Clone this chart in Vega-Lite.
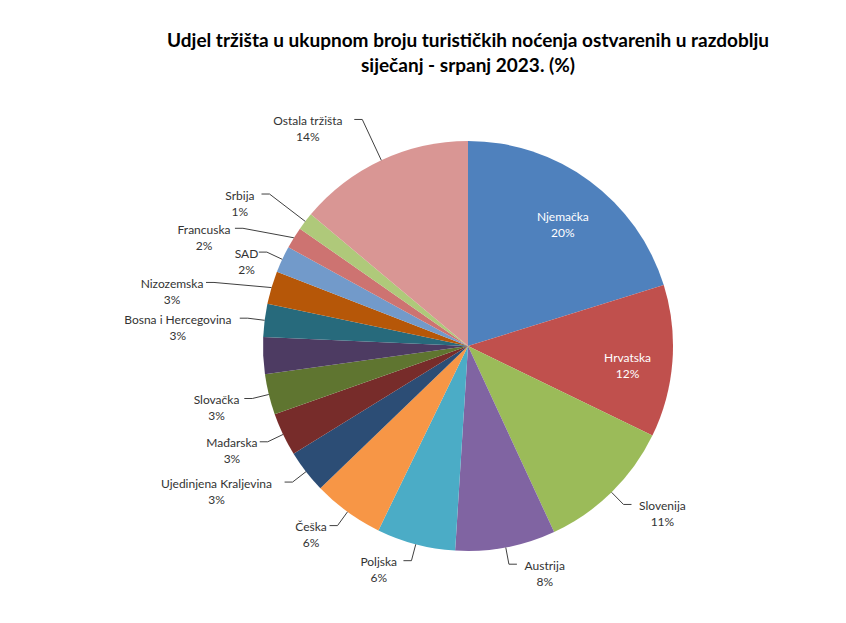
{
  "$schema": "https://vega.github.io/schema/vega-lite/v6.json",
  "width": 756,
  "height": 492,
  "autosize": {"type": "none"},
  "padding": {"left": 90, "top": 100, "right": 0, "bottom": 31},
  "background": "white",
  "title": {
    "text": ["Udjel tržišta u ukupnom broju turističkih noćenja ostvarenih u razdoblju", "siječanj - srpanj 2023. (%)"],
    "font": "Lato",
    "fontSize": 19,
    "fontWeight": "bold",
    "color": "#000000",
    "anchor": "middle",
    "lineHeight": 25,
    "offset": 24
  },
  "config": {"view": {"stroke": null}},
  "data": {
    "values": [
      {"order": 1, "name": "Njemačka", "value": 20.2},
      {"order": 2, "name": "Hrvatska", "value": 12.0},
      {"order": 3, "name": "Slovenija", "value": 10.9},
      {"order": 4, "name": "Austrija", "value": 7.9},
      {"order": 5, "name": "Poljska", "value": 6.2},
      {"order": 6, "name": "Češka", "value": 5.6},
      {"order": 7, "name": "Ujedinjena Kraljevina", "value": 3.4},
      {"order": 8, "name": "Mađarska", "value": 3.4},
      {"order": 9, "name": "Slovačka", "value": 3.2},
      {"order": 10, "name": "Italija", "value": 2.9, "hidden": true},
      {"order": 11, "name": "Bosna i Hercegovina", "value": 2.6},
      {"order": 12, "name": "Nizozemska", "value": 2.6},
      {"order": 13, "name": "SAD", "value": 2.1},
      {"order": 14, "name": "Francuska", "value": 1.7},
      {"order": 15, "name": "Srbija", "value": 1.4},
      {"order": 16, "name": "Ostala tržišta", "value": 13.9}
    ]
  },
  "transform": [
    {"window": [{"op": "sum", "field": "value", "as": "cum"}], "sort": [{"field": "order"}], "frame": [null, 0]},
    {"joinaggregate": [{"op": "sum", "field": "value", "as": "total"}]},
    {"calculate": "(datum.cum - datum.value / 2) / datum.total * 2 * PI", "as": "mid"},
    {"calculate": "sin(datum.mid)", "as": "s"},
    {"calculate": "cos(datum.mid)", "as": "c"},
    {"calculate": "datum.order % 2 == 0 && datum.mid > 1.5 * PI && datum.mid < 1.68 * PI", "as": "far"},
    {"calculate": "datum.mid > 1.68 * PI ? 250 : (datum.far ? 265 : 222)", "as": "re"},
    {"calculate": "datum.s >= 0 ? 1 : -1", "as": "side"},
    {"calculate": "205 * datum.s", "as": "x0"},
    {"calculate": "205 * datum.c", "as": "y0"},
    {"calculate": "datum.re * datum.s", "as": "x1"},
    {"calculate": "datum.far ? datum.y0 + (datum.re * datum.c - datum.y0) * 0.3 : datum.re * datum.c", "as": "y1"},
    {"calculate": "datum.x1 + datum.side * 8", "as": "x2"},
    {"calculate": "datum.x2 + datum.side * (3 + length(datum.name) * 3.1)", "as": "tx"},
    {"calculate": "datum.y1 - 1.5", "as": "ty"},
    {"calculate": "160 * datum.s", "as": "ix"},
    {"calculate": "160 * datum.c", "as": "iy"},
    {"calculate": "datum.name + '\\n' + format(datum.value / 100, '.0%')", "as": "label"}
  ],
  "layer": [
    {
      "mark": {"type": "arc", "outerRadius": 205},
      "encoding": {
        "theta": {"field": "value", "type": "quantitative", "stack": true},
        "order": {"field": "order", "type": "quantitative"},
        "color": {
          "field": "name",
          "type": "nominal",
          "legend": null,
          "scale": {
            "domain": ["Njemačka", "Hrvatska", "Slovenija", "Austrija", "Poljska", "Češka", "Ujedinjena Kraljevina", "Mađarska", "Slovačka", "Italija", "Bosna i Hercegovina", "Nizozemska", "SAD", "Francuska", "Srbija", "Ostala tržišta"],
            "range": ["#4F81BD", "#C0504D", "#9BBB59", "#8064A2", "#4BACC6", "#F79646", "#2C4D75", "#772C2A", "#5F7530", "#4D3B62", "#276A7C", "#B65708", "#729ACA", "#CD7371", "#AFC97A", "#D99694"]
          }
        }
      }
    },
    {
      "transform": [{"filter": "datum.order > 2 && !datum.hidden"}],
      "mark": {"type": "rule", "color": "#404040", "strokeWidth": 1},
      "encoding": {
        "x": {"field": "x0", "type": "quantitative", "axis": null, "scale": {"domain": [-378, 378], "nice": false, "zero": false}},
        "y": {"field": "y0", "type": "quantitative", "axis": null, "scale": {"domain": [-246, 246], "nice": false, "zero": false}},
        "x2": {"field": "x1"},
        "y2": {"field": "y1"}
      }
    },
    {
      "transform": [{"filter": "datum.order > 2 && !datum.hidden"}],
      "mark": {"type": "rule", "color": "#404040", "strokeWidth": 1},
      "encoding": {
        "x": {"field": "x1", "type": "quantitative", "axis": null, "scale": {"domain": [-378, 378], "nice": false, "zero": false}},
        "y": {"field": "y1", "type": "quantitative", "axis": null, "scale": {"domain": [-246, 246], "nice": false, "zero": false}},
        "x2": {"field": "x2"}
      }
    },
    {
      "transform": [{"filter": "datum.order > 2 && !datum.hidden"}],
      "mark": {"type": "text", "font": "Lato", "fontSize": 12, "color": "#333333", "align": "center", "baseline": "middle", "lineBreak": "\n", "lineHeight": 16},
      "encoding": {
        "x": {"field": "tx", "type": "quantitative", "axis": null, "scale": {"domain": [-378, 378], "nice": false, "zero": false}},
        "y": {"field": "ty", "type": "quantitative", "axis": null, "scale": {"domain": [-246, 246], "nice": false, "zero": false}},
        "text": {"field": "label", "type": "nominal"}
      }
    },
    {
      "transform": [{"filter": "datum.order <= 2"}],
      "mark": {"type": "text", "font": "Lato", "fontSize": 12, "color": "#FFFFFF", "align": "center", "baseline": "middle", "lineBreak": "\n", "lineHeight": 16},
      "encoding": {
        "x": {"field": "ix", "type": "quantitative", "axis": null, "scale": {"domain": [-378, 378], "nice": false, "zero": false}},
        "y": {"field": "iy", "type": "quantitative", "axis": null, "scale": {"domain": [-246, 246], "nice": false, "zero": false}},
        "text": {"field": "label", "type": "nominal"}
      }
    }
  ]
}
